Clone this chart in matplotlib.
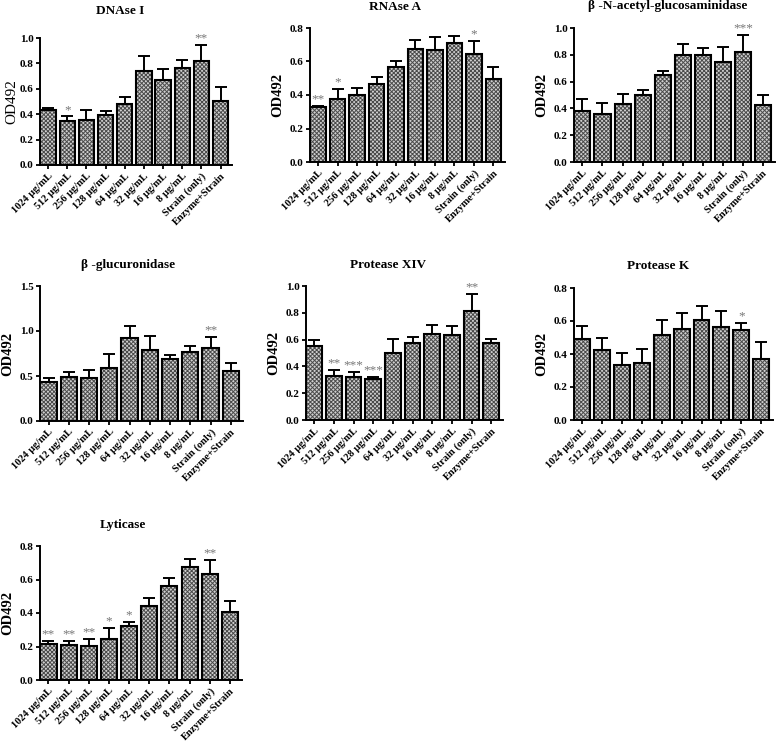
import matplotlib
matplotlib.use("Agg")
import matplotlib.pyplot as plt
import numpy as np

plt.rcParams['font.family'] = ['Liberation Serif', 'DejaVu Serif']
plt.rcParams['font.weight'] = 'bold'
plt.rcParams['hatch.linewidth'] = 0.7

labels = ["1024 µg/mL", "512 µg/mL", "256 µg/mL", "128 µg/mL", "64 µg/mL",
          "32 µg/mL", "16 µg/mL", "8 µg/mL", "Strain (only)", "Enzyme+Strain"]

# mean values and top of error bar for each enzyme
dnase_mean = [0.437, 0.348, 0.353, 0.393, 0.484, 0.738, 0.668, 0.762, 0.819, 0.505]
dnase_top = [0.445, 0.382, 0.432, 0.427, 0.537, 0.856, 0.754, 0.827, 0.948, 0.615]
dnase_sig = ["", "*", "", "", "", "", "", "", "**", ""]

rnase_mean = [0.327, 0.376, 0.40, 0.465, 0.565, 0.674, 0.668, 0.708, 0.642, 0.497]
rnase_top = [0.335, 0.435, 0.44, 0.505, 0.604, 0.726, 0.744, 0.75, 0.722, 0.565]
rnase_sig = ["**", "*", "", "", "", "", "", "", "*", ""]

nag_mean = [0.378, 0.358, 0.433, 0.502, 0.647, 0.796, 0.796, 0.744, 0.82, 0.428]
nag_top = [0.47, 0.44, 0.51, 0.535, 0.68, 0.88, 0.85, 0.856, 0.945, 0.502]
nag_sig = ["", "", "", "", "", "", "", "", "***", ""]

gluc_mean = [0.43, 0.49, 0.48, 0.59, 0.92, 0.79, 0.69, 0.763, 0.815, 0.552]
gluc_top = [0.48, 0.54, 0.565, 0.745, 1.055, 0.95, 0.73, 0.833, 0.937, 0.644]
gluc_sig = ["", "", "", "", "", "", "", "", "**", ""]

pxiv_mean = [0.552, 0.328, 0.32, 0.303, 0.502, 0.577, 0.642, 0.632, 0.816, 0.572]
pxiv_top = [0.597, 0.373, 0.356, 0.323, 0.604, 0.617, 0.709, 0.70, 0.94, 0.604]
pxiv_sig = ["", "**", "***", "***", "", "", "", "", "**", ""]

pk_mean = [0.492, 0.423, 0.333, 0.345, 0.516, 0.55, 0.609, 0.562, 0.548, 0.367]
pk_top = [0.569, 0.494, 0.409, 0.433, 0.609, 0.651, 0.69, 0.663, 0.585, 0.47]
pk_sig = ["", "", "", "", "", "", "", "", "*", ""]

lyt_mean = [0.213, 0.209, 0.205, 0.243, 0.322, 0.44, 0.559, 0.673, 0.633, 0.406]
lyt_top = [0.233, 0.235, 0.243, 0.308, 0.344, 0.488, 0.607, 0.722, 0.716, 0.474]
lyt_sig = ["**", "**", "**", "*", "*", "", "", "", "**", ""]

W, H = 780, 748
fig = plt.figure(figsize=(W / 100, H / 100), dpi=100)

# (title, mean, top, sig, ymax, ystep, box px [l, r, top, bottom], title px (x, y))
panels = [
    ("DNAse I", dnase_mean, dnase_top, dnase_sig, 1.0, 0.2, [40, 232, 38, 165], (120, 11)),
    ("RNAse A", rnase_mean, rnase_top, rnase_sig, 0.8, 0.2, [310, 505, 28, 162], (395, 7)),
    ("β -N-acetyl-glucosaminidase", nag_mean, nag_top, nag_sig, 1.0, 0.2, [574, 775, 28, 162], (668, 6)),
    ("β -glucuronidase", gluc_mean, gluc_top, gluc_sig, 1.5, 0.5, [40, 243, 286, 421], (128, 265)),
    ("Protease XIV", pxiv_mean, pxiv_top, pxiv_sig, 1.0, 0.2, [306, 503, 286, 420], (388, 265)),
    ("Protease K", pk_mean, pk_top, pk_sig, 0.8, 0.2, [574, 773, 288, 420], (658, 266)),
    ("Lyticase", lyt_mean, lyt_top, lyt_sig, 0.8, 0.2, [40, 242, 546, 680], (123, 525)),
]

x = np.arange(len(labels))
for title, mean, top, sig, ymax, ystep, box, tpos in panels:
    l, r, t, b = box
    ax = fig.add_axes([l / W, (H - b) / H, (r - l) / W, (b - t) / H])
    mean = np.array(mean)
    top = np.array(top)
    err = top - mean
    ax.errorbar(x, mean, yerr=[np.zeros_like(err), err], fmt='none', ecolor='black',
                elinewidth=1.4, capsize=4.5, capthick=1.4, zorder=1)
    ax.bar(x, mean, width=0.8, color='#cfcfcf', edgecolor='#4a4a4a', hatch='xxxxxxxx',
           linewidth=0, zorder=2)
    ax.bar(x, mean, width=0.8, fill=False, edgecolor='black', linewidth=1.5, zorder=3)
    for xi, ti, s in zip(x, top, sig):
        if s:
            ax.text(xi, ti + ymax * 0.005, s, ha='center', va='bottom', color='#777777',
                    fontsize=9.5, fontweight='normal')
    ax.set_xlim(-0.42, 9.6)
    ax.set_ylim(0, ymax)
    ticks = np.arange(0, ymax + 1e-9, ystep)
    ax.set_yticks(ticks)
    ax.set_yticklabels(["%.1f" % v for v in ticks], fontsize=8, fontweight='bold')
    ax.set_xticks(x)
    ax.set_xticklabels(labels, rotation=45, ha='right', rotation_mode='anchor',
                       fontsize=7.5, fontweight='bold')
    for sp in ['top', 'right']:
        ax.spines[sp].set_visible(False)
    for sp in ['left', 'bottom']:
        ax.spines[sp].set_linewidth(1.4)
    ax.tick_params(direction='out', length=3, width=1.3, pad=1.5)
    if title == "DNAse I":
        ax.set_ylabel("OD492", fontsize=11, fontweight='normal', labelpad=1)
    else:
        ax.set_ylabel("OD492", fontsize=10.5, fontweight='bold', labelpad=4)
    fig.text(tpos[0] / W, 1 - tpos[1] / H, title, ha='center', va='center',
             fontsize=9.5, fontweight='bold')

fig.savefig("out.png", dpi=100)
